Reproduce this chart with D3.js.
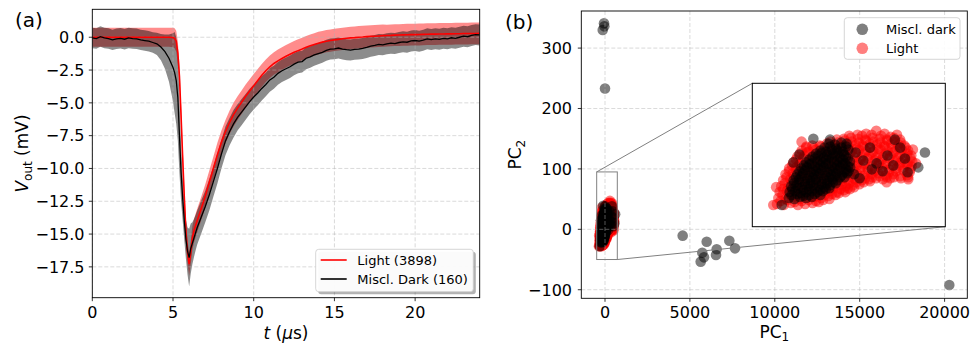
<!DOCTYPE html>
<html><head><meta charset="utf-8">
<script src="https://cdn.jsdelivr.net/npm/d3@7"></script>
<style>body{margin:0;background:#fff} svg{display:block} text{font-family:"DejaVu Sans",sans-serif;fill:#000}</style>
</head><body><svg id="c" width="975" height="347"></svg>
<script>
// ---------- Panel (a) data ----------
const time = [0,0.25,0.5,0.75,1,1.25,1.5,1.75,2,2.25,2.5,2.75,3,3.25,3.5,3.75,4,4.25,4.5,4.75,5,
 5.1,5.2,5.3,5.4,5.5,5.6,5.7,5.8,5.9,6,6.1,6.2,6.3,6.4,6.5,
 6.75,7,7.25,7.5,7.75,8,8.25,8.5,8.75,9,9.25,9.5,9.75,10,
 10.25,10.5,10.75,11,11.25,11.5,11.75,12,12.25,12.5,12.75,13,13.25,13.5,13.75,14,
 14.25,14.5,14.75,15,15.25,15.5,15.75,16,16.25,16.5,16.75,17,17.25,17.5,17.75,18,
 18.25,18.5,18.75,19,19.25,19.5,19.75,20,20.25,20.5,20.75,21,21.25,21.5,21.75,22,
 22.25,22.5,22.75,23,23.25,23.5,23.75,24];
const lightMean = [0,0,0,0,0,0,0,0,0,0,0,0,0,0,0,0,0,0,0,0,-0.02,
 -0.08,-0.3,-1.2,-3.0,-6.0,-9.2,-12.2,-14.8,-16.4,-17.3,-16.4,-15.3,-14.75,-14.35,-13.97,
 -13.05,-12.1,-11.05,-10.0,-8.95,-8.0,-7.2,-6.5,-5.9,-5.4,-4.95,-4.5,-4.1,-3.7,
 -3.3,-2.9,-2.55,-2.25,-2.0,-1.8,-1.62,-1.45,-1.3,-1.15,-1.02,-0.9,-0.77,-0.65,-0.55,-0.45,
 -0.37,-0.3,-0.25,-0.2,-0.16,-0.12,-0.08,-0.05,-0.03,0.0,0.02,0.05,0.07,0.08,0.1,0.12,
 0.13,0.14,0.16,0.17,0.18,0.19,0.2,0.2,0.21,0.22,0.23,0.24,0.24,0.25,0.25,0.26,
 0.26,0.27,0.27,0.28,0.28,0.29,0.29,0.3];
const lightSd = [0.73,0.73,0.73,0.73,0.73,0.73,0.73,0.73,0.73,0.73,0.73,0.73,0.73,0.73,0.73,0.73,0.73,0.73,0.73,0.73,0.74,
 0.76,0.8,0.85,0.9,0.9,0.9,0.9,0.9,0.9,0.9,0.9,0.9,0.9,0.9,0.9,
 0.9,0.9,0.9,0.9,0.9,0.9,0.9,0.9,0.9,0.9,0.9,0.9,0.9,0.9,
 0.88,0.87,0.86,0.86,0.86,0.86,0.86,0.86,0.86,0.86,0.86,0.86,0.86,0.86,0.86,0.86,
 0.85,0.85,0.85,0.85,0.85,0.85,0.85,0.85,0.85,0.85,0.85,0.85,0.85,0.85,0.85,0.85,
 0.83,0.83,0.83,0.83,0.83,0.83,0.83,0.83,0.83,0.83,0.83,0.83,0.83,0.83,0.83,0.83,
 0.83,0.83,0.83,0.83,0.83,0.83,0.83,0.83];
const darkMean = [-0.05,-0.1,0.05,-0.05,-0.1,-0.2,-0.12,-0.08,-0.15,-0.05,-0.1,-0.12,-0.2,-0.25,-0.3,-0.4,-0.5,-0.75,-1.1,-1.6,-2.3,
 -2.7,-3.3,-4.6,-7.5,-10.3,-12.3,-14.0,-15.4,-16.3,-16.8,-16.1,-15.7,-15.3,-14.9,-14.5,
 -13.7,-12.9,-12.0,-11.0,-10.0,-8.9,-7.9,-7.2,-6.6,-6.1,-5.7,-5.3,-4.9,-4.55,
 -4.25,-3.9,-3.6,-3.25,-3.05,-2.75,-2.55,-2.4,-2.25,-2.05,-1.9,-1.85,-1.6,-1.5,-1.35,-1.25,
 -1.15,-1.0,-0.9,-0.88,-0.82,-0.9,-0.95,-0.98,-0.92,-0.9,-0.85,-0.78,-0.68,-0.62,-0.55,-0.58,
 -0.5,-0.45,-0.48,-0.4,-0.35,-0.38,-0.28,-0.25,-0.3,-0.22,-0.12,-0.18,-0.12,-0.16,-0.08,-0.12,
 -0.04,-0.08,0.0,0.08,0.04,0.14,0.2,0.18];
const darkSd = [0.78,0.78,0.78,0.78,0.78,0.78,0.78,0.78,0.78,0.78,0.78,0.78,0.78,0.78,0.78,0.78,0.85,1.0,1.3,1.8,2.6,
 3.1,3.3,3.3,2.9,2.2,1.7,1.5,1.5,1.8,2.2,1.9,1.6,1.45,1.35,1.3,
 1.25,1.2,1.2,1.15,1.15,1.1,1.1,1.05,1.05,1.0,1.0,0.98,0.97,0.95,
 0.93,0.92,0.9,0.9,0.88,0.87,0.86,0.85,0.85,0.84,0.84,0.83,0.83,0.82,0.82,0.81,
 0.8,0.8,0.8,0.8,0.8,0.8,0.8,0.8,0.8,0.8,0.8,0.8,0.8,0.8,0.8,0.8,
 0.8,0.8,0.8,0.8,0.8,0.8,0.8,0.8,0.8,0.8,0.8,0.8,0.8,0.8,0.8,0.8,
 0.8,0.8,0.8,0.8,0.8,0.8,0.8,0.8];
const xTicksA = [0,5,10,15,20];
const yTicksA = [0,-2.5,-5,-7.5,-10,-12.5,-15,-17.5];
const legendA = ["Light (3898)","Miscl. Dark (160)"];

// ---------- Panel (b) data ----------
const lightPts = [
 [-335,-27],[-292,-28],[-248,-26],[-203,-28],[-158,-27],[-112,-26],[-72,-25],
 [-312,-24],[-268,-23],[-224,-25],[-180,-24],[-135,-23],[-90,-24],[-45,-23],[-5,-22],
 [-326,-21],[-281,-22],[-236,-20],[-190,-22],[-146,-21],[-101,-20],[-57,-21],[-12,-19],[33,-18],
 [-300,-18],[-257,-17],[-212,-19],[-168,-18],[-123,-17],[-78,-19],[-34,-18],[10,-17],[55,-16],[95,-15],
 [-318,-15],[-273,-14],[-229,-16],[-183,-15],[-139,-14],[-93,-16],[-48,-15],[-3,-14],[42,-15],[87,-13],[124,-12],
 [-295,-12],[-250,-11],[-205,-13],[-160,-12],[-116,-11],[-70,-13],[-25,-12],[20,-11],[65,-12],[110,-11],[150,-10],
 [-308,-9],[-263,-10],[-219,-8],[-172,-9],[-128,-10],[-83,-8],[-38,-9],[7,-10],[52,-8],[97,-9],[142,-8],[184,-7],
 [-285,-6],[-240,-5],[-196,-7],[-150,-6],[-105,-5],[-60,-7],[-15,-6],[30,-5],[75,-7],[120,-6],[165,-5],[210,-5],[250,-4],
 [-296,-3],[-251,-2],[-206,-4],[-160,-3],[-116,-2],[-71,-4],[-26,-3],[19,-2],[64,-4],[109,-3],[154,-2],[199,-3],[244,-2],[289,-1],[331,-2],[378,-1],
 [-275,0],[-230,1],[-185,-1],[-140,0],[-95,1],[-50,-1],[-5,0],[40,1],[85,-1],[130,0],[175,1],[220,-1],[265,0],[310,1],[355,0],[400,0],[445,-1],[490,0],
 [-281,3],[-236,4],[-191,2],[-146,3],[-101,4],[-56,2],[-11,3],[34,4],[79,2],[124,3],[169,4],[214,2],[259,3],[304,4],[349,2],[394,3],[439,1],[484,2],
 [-260,6],[-215,7],[-170,5],[-125,6],[-80,7],[-35,5],[10,6],[55,7],[100,5],[145,6],[190,7],[235,5],[280,6],[325,7],[370,5],[415,6],[460,7],[500,5],
 [-258,9],[-213,10],[-168,8],[-123,9],[-78,10],[-33,8],[12,9],[57,10],[102,8],[147,9],[192,10],[237,8],[282,9],[327,10],[372,8],[417,9],[462,10],[505,8],
 [-240,12],[-195,13],[-150,11],[-105,12],[-60,13],[-15,11],[30,12],[75,13],[120,11],[165,12],[210,13],[255,11],[300,12],[345,13],[390,11],[435,12],[480,13],[512,11],
 [-232,15],[-187,14],[-142,16],[-97,15],[-52,14],[-7,16],[38,15],[83,14],[128,16],[173,15],[218,14],[263,16],[308,15],[353,14],[398,16],[443,15],[488,14],[516,16],
 [-215,18],[-170,19],[-125,17],[-80,18],[-35,19],[10,17],[55,18],[100,19],[145,17],[190,18],[235,19],[280,17],[325,18],[370,19],[415,17],[460,18],[505,19],
 [-206,21],[-161,22],[-116,20],[-71,21],[-26,22],[19,20],[64,21],[109,22],[154,20],[199,21],[244,22],[289,20],[334,21],[379,22],[424,20],[469,21],[510,22],
 [-190,24],[-145,25],[-100,23],[-55,24],[-10,25],[35,23],[80,24],[125,25],[170,23],[215,24],[260,25],[305,23],[350,24],[395,25],[440,23],[485,24],
 [-179,27],[-134,26],[-89,28],[-44,27],[1,26],[46,28],[91,27],[136,26],[181,28],[226,27],[271,26],[316,28],[361,27],[406,26],[451,28],[490,27],
 [-150,30],[-105,29],[-60,31],[-15,30],[30,29],[75,31],[120,30],[165,29],[210,31],[255,30],[300,29],[345,31],[390,30],[435,29],[475,30],
 [-112,32],[-66,32],[-21,34],[24,33],[69,32],[114,34],[159,33],[204,32],[249,34],[294,33],[339,32],[384,34],[429,33],[466,32],
 [0,36],[45,35],[90,37],[135,36],[180,35],[225,37],[270,36],[315,35],[360,37],[405,36],[445,35],
 [42,38],[86,39],[131,40],[176,39],[221,38],[266,40],[311,39],[356,38],[401,40],[440,38],
 [120,42],[200,42],[260,43],[320,42],[380,41],
 [172,43],[226,44],[290,47],[342,44],[420,43],
 [-180,36],[-340,-10],[-358,-28],[355,-5],[491,-2],[520,28],[540,14],[-150,31]
];
const darkPts = [
 [-260,-21],[-225,-22],[-190,-20],[-152,-21],[-116,-20],
 [-243,-18],[-207,-17],[-170,-19],[-133,-18],[-97,-17],[-62,-18],
 [-255,-15],[-220,-14],[-186,-16],[-150,-15],[-115,-14],[-80,-15],[-46,-14],
 [-238,-12],[-203,-11],[-168,-13],[-133,-12],[-98,-11],[-63,-13],[-28,-12],[-5,-11],
 [-246,-9],[-211,-8],[-176,-10],[-141,-9],[-106,-8],[-71,-9],[-36,-10],[-1,-8],
 [-228,-6],[-193,-5],[-158,-7],[-123,-6],[-88,-5],[-53,-7],[-18,-6],[17,-5],[35,-6],
 [-230,-3],[-195,-2],[-160,-4],[-125,-3],[-90,-2],[-55,-4],[-20,-3],[15,-2],[46,-3],
 [-215,0],[-180,1],[-145,-1],[-110,0],[-75,1],[-40,-1],[-5,0],[30,1],[62,0],[90,0],
 [-206,3],[-171,4],[-136,2],[-101,3],[-66,4],[-31,2],[4,3],[39,4],[74,2],[106,4],
 [-193,6],[-158,7],[-123,5],[-88,6],[-53,7],[-18,5],[17,6],[52,7],[87,5],[115,6],
 [-181,9],[-146,10],[-111,8],[-76,9],[-41,10],[-6,8],[29,9],[64,10],[99,8],[126,10],
 [-166,12],[-131,13],[-96,11],[-61,12],[-26,13],[9,11],[44,12],[79,13],[112,11],
 [-151,15],[-116,14],[-81,16],[-46,15],[-11,14],[24,16],[59,15],[94,14],[124,16],
 [-131,18],[-96,19],[-61,17],[-26,18],[9,19],[44,17],[79,18],[110,19],
 [-111,21],[-76,22],[-41,20],[-6,21],[29,22],[64,20],[99,21],
 [-88,24],[-53,25],[-18,23],[17,24],[52,25],[87,23],
 [-61,27],[-26,26],[9,28],[44,27],[79,26],[114,28],
 [-35,30],[0,31],[35,29],[70,30],[100,31],
 [-10,34],[30,33],[70,35],
 [208,17],[292,14],[397,12],[470,19],[407,38],[160,25],[250,30],[330,6],[440,30],[360,22],[185,-1],[262,8],[103,34],[150,3],
 [-106,39],[-194,23],[-232,15],[596,25],[554,10],[487,5],[-305,-28],[-1,38],
 [-59,341],[-135,330],[-40,336],[0,233],[4574,-10.5],[5989,-20.5],[7323,-18.9],[7656,-31.5],[6577,-33],[6537,-42.5],[5730,-38.7],[5830,-46.4],[5635,-53.6],[20277,-92.2]
];
const xTicksB = [0,5000,10000,15000,20000];
const yTicksB = [-100,0,100,200,300];
const insetXDomain = [-490,724];
const insetYDomain = [-50,95];
const legendB = ["Miscl. dark","Light"];

// ---------- drawing ----------
const svg = d3.select("#c");
const gridStyle = g => g.attr("stroke","#b0b0b0").attr("stroke-opacity",0.6).attr("stroke-width",0.8).attr("stroke-dasharray","4,2");

// Panel a
const A = {l:92.3,r:479.7,t:9.3,b:297.7};
const xA = d3.scaleLinear([0,24],[A.l,A.r]);
const yA = d3.scaleLinear([-19.85,2.13],[A.b,A.t]);
const ga = svg.append("g");
ga.append("clipPath").attr("id","clipA").append("rect").attr("x",A.l).attr("y",A.t).attr("width",A.r-A.l).attr("height",A.b-A.t);
const dataA = time.map((t,i)=>({t, lm:lightMean[i], ls:lightSd[i], dm:darkMean[i], ds:darkSd[i]}));
const plotA = ga.append("g").attr("clip-path","url(#clipA)");
plotA.append("path").datum(dataA).attr("fill","red").attr("fill-opacity",0.45)
 .attr("d", d3.area().x(d=>xA(d.t)).y0(d=>yA(d.lm-d.ls)).y1(d=>yA(d.lm+d.ls)));
plotA.append("path").datum(dataA).attr("fill","black").attr("fill-opacity",0.45)
 .attr("d", d3.area().x(d=>xA(d.t)).y0(d=>yA(d.dm-d.ds)).y1(d=>yA(d.dm+d.ds)));
const gridA = plotA.append("g").call(gridStyle);
xTicksA.forEach(v=>gridA.append("line").attr("x1",xA(v)).attr("x2",xA(v)).attr("y1",A.t).attr("y2",A.b));
yTicksA.forEach(v=>gridA.append("line").attr("x1",A.l).attr("x2",A.r).attr("y1",yA(v)).attr("y2",yA(v)));
plotA.append("path").datum(dataA).attr("fill","none").attr("stroke","red").attr("stroke-width",1.6)
 .attr("d", d3.line().x(d=>xA(d.t)).y(d=>yA(d.lm)));
plotA.append("path").datum(dataA).attr("fill","none").attr("stroke","black").attr("stroke-width",1.3)
 .attr("d", d3.line().x(d=>xA(d.t)).y(d=>yA(d.dm)));
ga.append("rect").attr("x",A.l).attr("y",A.t).attr("width",A.r-A.l).attr("height",A.b-A.t).attr("fill","none").attr("stroke","#000").attr("stroke-width",0.9);
const axA = ga.append("g");
xTicksA.forEach(v=>{
  axA.append("line").attr("x1",xA(v)).attr("x2",xA(v)).attr("y1",A.b).attr("y2",A.b+3.5).attr("stroke","#000").attr("stroke-width",0.8);
  axA.append("text").attr("x",xA(v)).attr("y",318.3).attr("text-anchor","middle").attr("font-size",16).text(d3.format("d")(v));
});
yTicksA.forEach(v=>{
  axA.append("line").attr("x1",A.l-3.5).attr("x2",A.l).attr("y1",yA(v)).attr("y2",yA(v)).attr("stroke","#000").attr("stroke-width",0.8);
  axA.append("text").attr("x",84.5).attr("y",yA(v)+5.8).attr("text-anchor","end").attr("font-size",16).text(d3.format(".1f")(v));
});
const xlabA = ga.append("text").attr("x",(A.l+A.r)/2).attr("y",339).attr("text-anchor","middle").attr("font-size",17);
xlabA.append("tspan").attr("font-style","italic").text("t");
xlabA.append("tspan").text(" (");
xlabA.append("tspan").attr("font-style","italic").text("μ");
xlabA.append("tspan").text("s)");
const ylabA = ga.append("text").attr("transform",`translate(28,${(A.t+A.b)/2}) rotate(-90)`).attr("text-anchor","middle").attr("font-size",17);
ylabA.append("tspan").attr("font-style","italic").text("V");
ylabA.append("tspan").attr("font-size",12).attr("dy",3.5).text("out");
ylabA.append("tspan").attr("dy",-3.5).text(" (mV)");
ga.append("text").attr("x",15).attr("y",A.t+18).attr("font-size",20).text("(a)");
const LA = {x:315.7,y:249.3,w:157.6,h:42.4};
ga.append("rect").attr("x",LA.x+2.5).attr("y",LA.y+2.5).attr("width",LA.w).attr("height",LA.h).attr("rx",3).attr("fill","#000").attr("fill-opacity",0.3);
ga.append("rect").attr("x",LA.x).attr("y",LA.y).attr("width",LA.w).attr("height",LA.h).attr("rx",3).attr("fill","#fff").attr("fill-opacity",0.95).attr("stroke","#ccc").attr("stroke-width",0.8);
[["red",260],["black",279]].forEach(([c,yy],i)=>{
  ga.append("line").attr("x1",320.7).attr("x2",346.7).attr("y1",yy).attr("y2",yy).attr("stroke",c).attr("stroke-width",1.6);
  ga.append("text").attr("x",357.3).attr("y",yy+4.7).attr("font-size",13).text(legendA[i]);
});

// Panel b
const B = {l:581.3,r:967.3,t:11,b:298.3};
const xB = d3.scaleLinear([-1396,21337],[B.l,B.r]);
const yB = d3.scaleLinear([-114.2,361.4],[B.b,B.t]);
const gb = svg.append("g");
gb.append("clipPath").attr("id","clipB").append("rect").attr("x",B.l).attr("y",B.t).attr("width",B.r-B.l).attr("height",B.b-B.t);
const plotB = gb.append("g").attr("clip-path","url(#clipB)");
const R = 5.3;
plotB.selectAll("circle.l").data(lightPts).join("circle").attr("cx",d=>xB(d[0])).attr("cy",d=>yB(d[1])).attr("r",R).attr("fill","red").attr("fill-opacity",0.5);
plotB.selectAll("circle.d").data(darkPts).join("circle").attr("cx",d=>xB(d[0])).attr("cy",d=>yB(d[1])).attr("r",R).attr("fill","black").attr("fill-opacity",0.5);
const gridB = plotB.append("g").call(gridStyle);
xTicksB.forEach(v=>gridB.append("line").attr("x1",xB(v)).attr("x2",xB(v)).attr("y1",B.t).attr("y2",B.b));
yTicksB.forEach(v=>gridB.append("line").attr("x1",B.l).attr("x2",B.r).attr("y1",yB(v)).attr("y2",yB(v)));
const I = {l:752.3,r:945.3,t:83.3,b:226.7};
const xI = d3.scaleLinear(insetXDomain,[I.l,I.r]);
const yI = d3.scaleLinear(insetYDomain,[I.b,I.t]);
const zr = {l:xB(insetXDomain[0]),r:xB(insetXDomain[1]),t:yB(insetYDomain[1]),b:yB(insetYDomain[0])};
gb.append("rect").attr("x",zr.l).attr("y",zr.t).attr("width",zr.r-zr.l).attr("height",zr.b-zr.t).attr("fill","none").attr("stroke","#808080").attr("stroke-width",1);
gb.append("line").attr("x1",zr.l).attr("y1",zr.t).attr("x2",I.l).attr("y2",I.t).attr("stroke","#808080").attr("stroke-width",1);
gb.append("line").attr("x1",zr.r).attr("y1",zr.b).attr("x2",I.r).attr("y2",I.b).attr("stroke","#808080").attr("stroke-width",1);
gb.append("clipPath").attr("id","clipI").append("rect").attr("x",I.l).attr("y",I.t).attr("width",I.r-I.l).attr("height",I.b-I.t);
gb.append("rect").attr("x",I.l).attr("y",I.t).attr("width",I.r-I.l).attr("height",I.b-I.t).attr("fill","#fff");
const plotI = gb.append("g").attr("clip-path","url(#clipI)");
plotI.selectAll("circle.l").data(lightPts).join("circle").attr("cx",d=>xI(d[0])).attr("cy",d=>yI(d[1])).attr("r",R).attr("fill","red").attr("fill-opacity",0.5);
plotI.selectAll("circle.d").data(darkPts).join("circle").attr("cx",d=>xI(d[0])).attr("cy",d=>yI(d[1])).attr("r",R).attr("fill","black").attr("fill-opacity",0.5);
gb.append("rect").attr("x",I.l).attr("y",I.t).attr("width",I.r-I.l).attr("height",I.b-I.t).attr("fill","none").attr("stroke","#000").attr("stroke-width",1);
gb.append("rect").attr("x",B.l).attr("y",B.t).attr("width",B.r-B.l).attr("height",B.b-B.t).attr("fill","none").attr("stroke","#000").attr("stroke-width",0.9);
const axB = gb.append("g");
xTicksB.forEach(v=>{
  axB.append("line").attr("x1",xB(v)).attr("x2",xB(v)).attr("y1",B.b).attr("y2",B.b+3.5).attr("stroke","#000").attr("stroke-width",0.8);
  axB.append("text").attr("x",xB(v)).attr("y",318.3).attr("text-anchor","middle").attr("font-size",16).text(d3.format("d")(v));
});
yTicksB.forEach(v=>{
  axB.append("line").attr("x1",B.l-3.5).attr("x2",B.l).attr("y1",yB(v)).attr("y2",yB(v)).attr("stroke","#000").attr("stroke-width",0.8);
  axB.append("text").attr("x",572).attr("y",yB(v)+5.8).attr("text-anchor","end").attr("font-size",16).text(d3.format("d")(v));
});
const xlabB = gb.append("text").attr("x",(B.l+B.r)/2).attr("y",337.5).attr("text-anchor","middle").attr("font-size",17);
xlabB.append("tspan").text("PC");
xlabB.append("tspan").attr("font-size",12).attr("dy",3.5).text("1");
const ylabB = gb.append("text").attr("transform",`translate(521,${(B.t+B.b)/2}) rotate(-90)`).attr("text-anchor","middle").attr("font-size",17);
ylabB.append("tspan").text("PC");
ylabB.append("tspan").attr("font-size",12).attr("dy",3.5).text("2");
gb.append("text").attr("x",505).attr("y",B.t+18).attr("font-size",20).text("(b)");
gb.append("rect").attr("x",844.3).attr("y",17.7).attr("width",115.7).attr("height",41.6).attr("rx",3).attr("fill","#fff").attr("fill-opacity",0.9).attr("stroke","#ccc").attr("stroke-width",0.8);
[["black",29.3],["red",48.3]].forEach(([c,yy],i)=>{
  gb.append("circle").attr("cx",862.3).attr("cy",yy).attr("r",5.8).attr("fill",c).attr("fill-opacity",0.5);
  gb.append("text").attr("x",886).attr("y",yy+4.7).attr("font-size",13).text(legendB[i]);
});
</script></body></html>
